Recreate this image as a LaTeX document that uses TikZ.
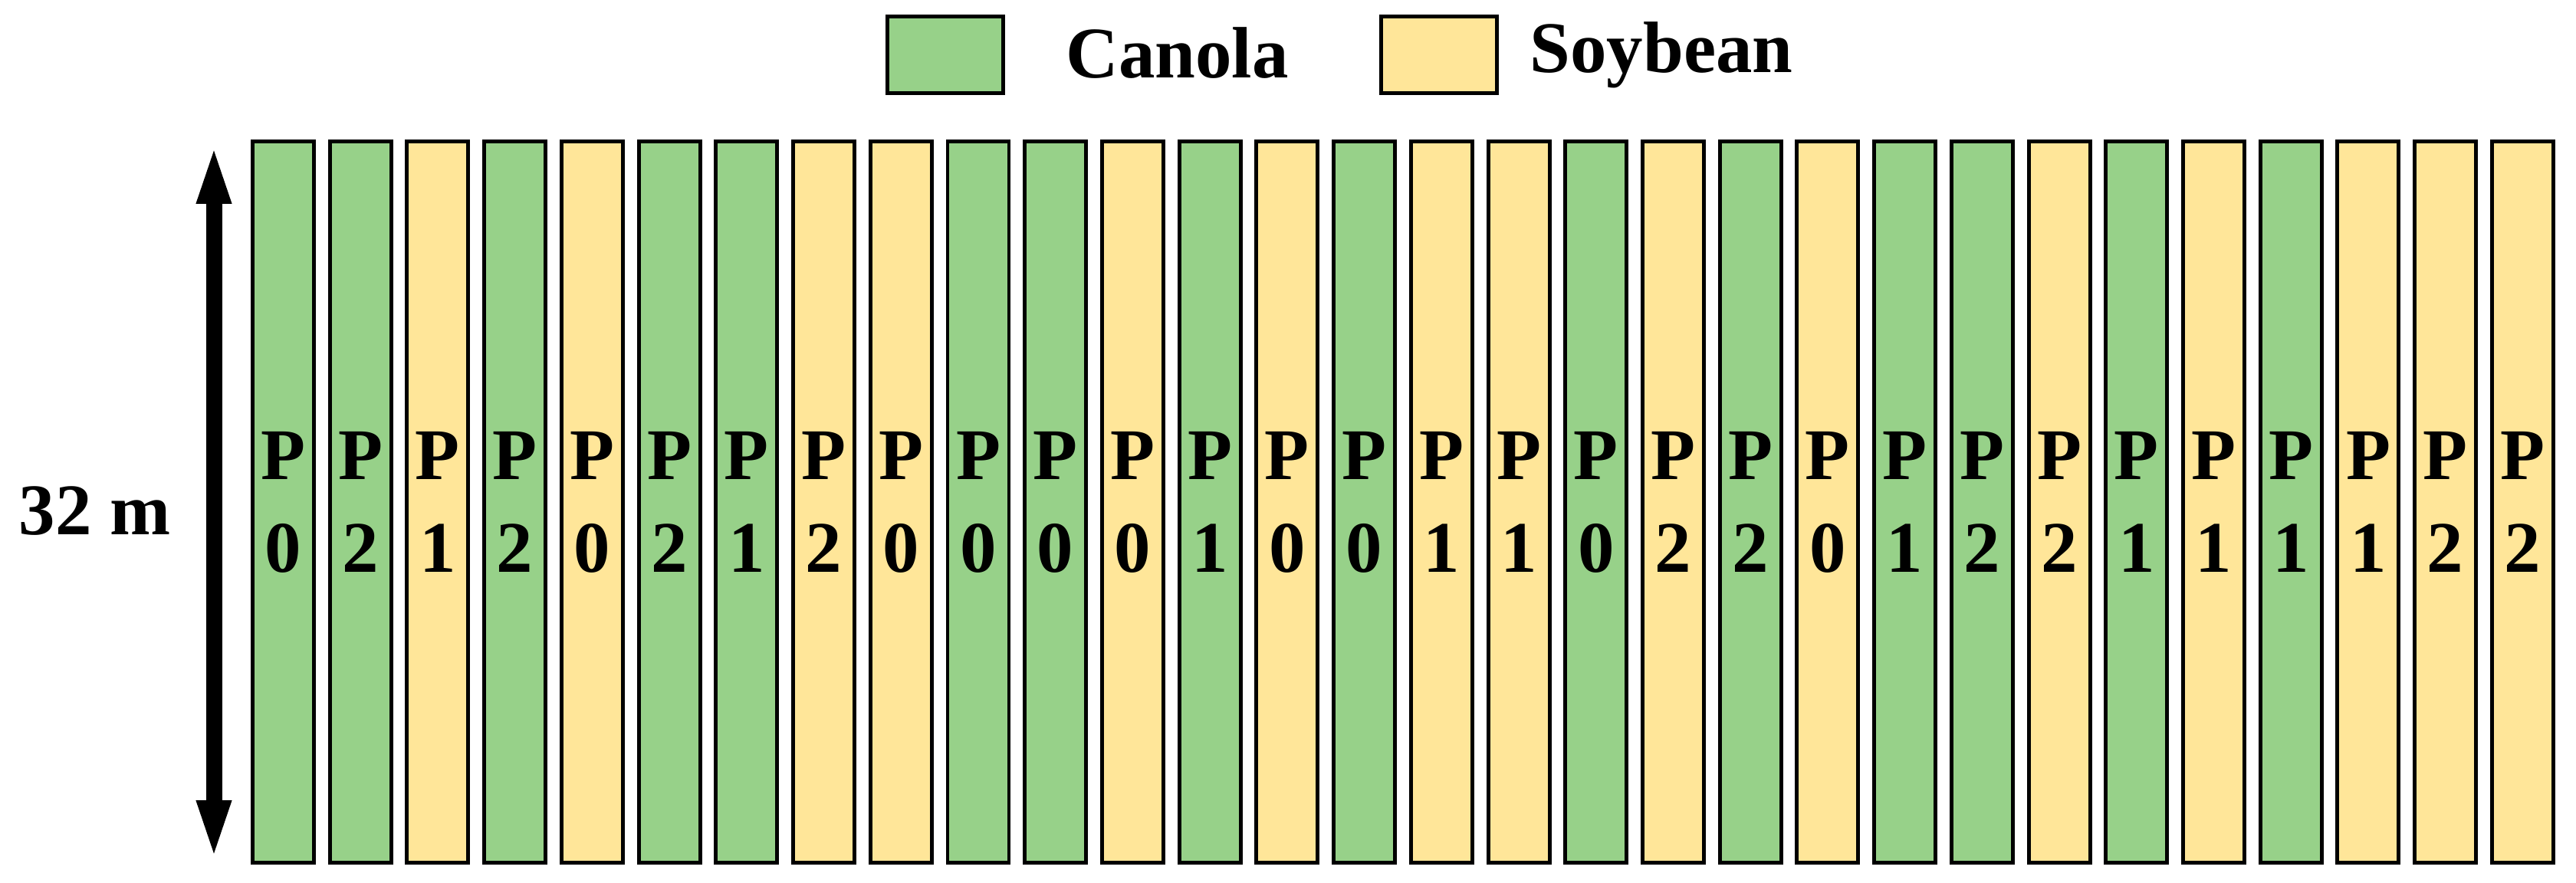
\documentclass[tikz,border=0pt]{standalone}
\usepackage{fontspec}
\setmainfont{Liberation Serif}
\usepackage{tikz}
\usetikzlibrary{arrows.meta}
\definecolor{canola}{RGB}{151,209,137}
\definecolor{soy}{RGB}{255,230,153}

\begin{document}
\begin{tikzpicture}[
	plot/.style={draw,line width=1.42pt,minimum width=0.8cm,minimum height=9.41cm,inner sep=0pt,align=center,font=\bfseries\fontsize{27}{34.4}\selectfont},
	key/.style={draw,line width=1.42pt,minimum width=1.51cm,minimum height=1cm,inner sep=0pt},
	txt/.style={font=\bfseries\fontsize{27}{32}\selectfont,inner sep=0pt,anchor=base west}]
	\useasboundingbox (0,0) rectangle (33.6,11.51);
	% legend
	\node[key,fill=canola] (keycanola) at (12.33,10.795) {};
	\node[txt] (canola) at (13.90,10.49) {Canola};
	\node[key,fill=soy] (keysoy) at (18.765,10.795) {};
	\node[txt] (soybean) at (19.95,10.56) {Soybean};
	% plots: crop/treatment
	\foreach \c/\p [count=\i from 0] in {canola/0,canola/2,soy/1,canola/2,soy/0,canola/2,canola/1,soy/2,soy/0,canola/0,
		canola/0,soy/0,canola/1,soy/0,canola/0,soy/1,soy/1,canola/0,soy/2,canola/2,
		soy/0,canola/1,canola/2,soy/2,canola/1,soy/1,canola/1,soy/1,soy/2,soy/2}
	\node[plot,fill=\c] (plot\i) at ({3.695+1.0072*\i},4.96) {P\\\p};
	% plot length
	\node[txt] (len) at (0.24,4.54) {32 m};
	\coordinate (lentop) at (2.79,9.67);
	\coordinate (lenbot) at (2.79,0.25);
	\draw[{Triangle[length=0.82cm,width=0.39cm]}-{Triangle[length=0.82cm,width=0.39cm]},line width=0.21cm] (lenbot) -- (lentop);
\end{tikzpicture}
\end{document}
